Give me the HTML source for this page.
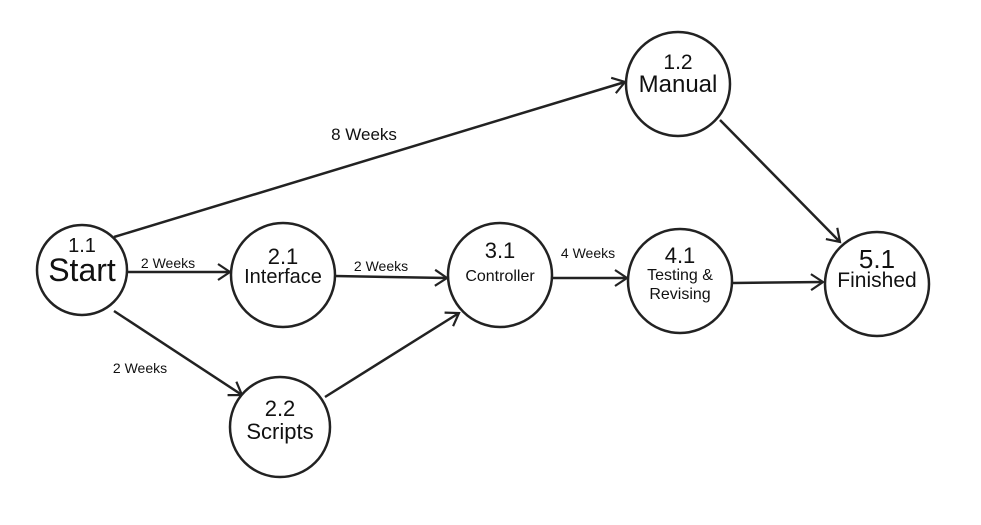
<!DOCTYPE html>
<html><head><meta charset="utf-8"><style>
html,body{margin:0;padding:0;background:#fff;}
svg{display:block;}
text{font-family:"Liberation Sans",sans-serif;fill:#111;text-anchor:middle;}
</style></head><body>
<svg width="981" height="525" viewBox="0 0 981 525" xmlns="http://www.w3.org/2000/svg">
<defs>
<marker id="a" viewBox="0 0 20 20" refX="18" refY="10" markerWidth="20" markerHeight="20" markerUnits="userSpaceOnUse" orient="auto">
<path d="M6 2 L18 10 L6 18" fill="none" stroke="#222" stroke-width="2.2"/>
</marker>
</defs>
<g stroke="#222" stroke-width="2.5" fill="none">
<line x1="114" y1="237" x2="625" y2="82" marker-end="url(#a)"/>
<line x1="127" y1="272" x2="230" y2="272" marker-end="url(#a)"/>
<line x1="114" y1="311" x2="242" y2="395" marker-end="url(#a)"/>
<line x1="335" y1="276" x2="447" y2="278" marker-end="url(#a)"/>
<line x1="325" y1="397" x2="459" y2="313" marker-end="url(#a)"/>
<line x1="553" y1="278" x2="627" y2="278" marker-end="url(#a)"/>
<line x1="733" y1="283" x2="823" y2="282" marker-end="url(#a)"/>
<line x1="720" y1="120" x2="840" y2="242" marker-end="url(#a)"/>
<circle cx="82" cy="270" r="45" fill="#fff"/>
<circle cx="283" cy="275" r="52" fill="#fff"/>
<circle cx="280" cy="427" r="50" fill="#fff"/>
<circle cx="500" cy="275" r="52" fill="#fff"/>
<circle cx="680" cy="281" r="52" fill="#fff"/>
<circle cx="678" cy="84" r="52" fill="#fff"/>
<circle cx="877" cy="284" r="52" fill="#fff"/>
</g>
<text x="82" y="252" font-size="20">1.1</text>
<text x="82" y="281" font-size="32">Start</text>
<text x="283" y="264" font-size="22">2.1</text>
<text x="283" y="283" font-size="20">Interface</text>
<text x="280" y="416" font-size="22">2.2</text>
<text x="280" y="439" font-size="22">Scripts</text>
<text x="500" y="258" font-size="22">3.1</text>
<text x="500" y="281" font-size="16">Controller</text>
<text x="680" y="263" font-size="22">4.1</text>
<text x="680" y="280" font-size="16">Testing &amp;</text>
<text x="680" y="299" font-size="16">Revising</text>
<text x="678" y="69" font-size="21">1.2</text>
<text x="678" y="92" font-size="24">Manual</text>
<text x="877" y="268" font-size="26">5.1</text>
<text x="877" y="287" font-size="21">Finished</text>
<text x="364" y="140" font-size="17">8 Weeks</text>
<text x="168" y="268" font-size="14">2 Weeks</text>
<text x="381" y="271" font-size="14">2 Weeks</text>
<text x="140" y="373" font-size="14">2 Weeks</text>
<text x="588" y="258" font-size="14">4 Weeks</text>
</svg>
</body></html>
